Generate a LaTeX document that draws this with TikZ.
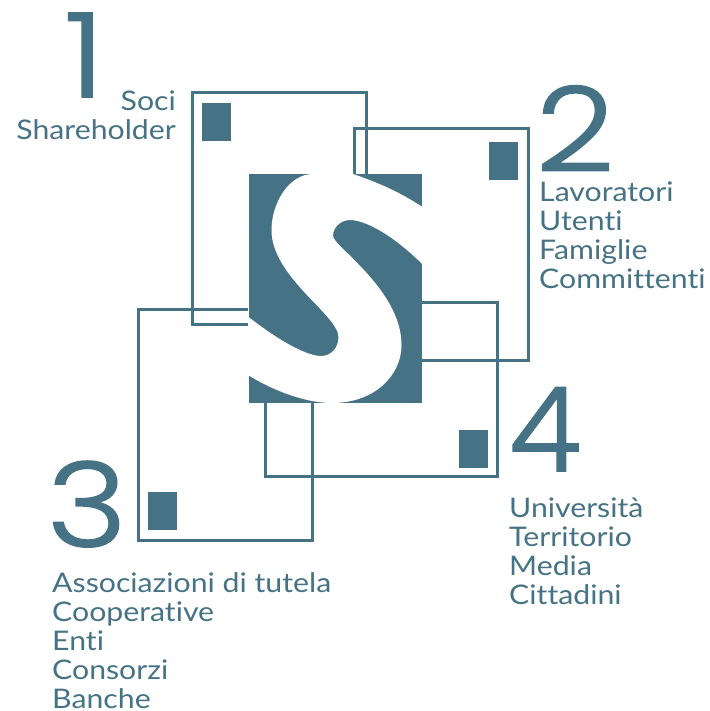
\documentclass[tikz,border=0pt]{standalone}
\usepackage{fontspec}
\setmainfont[FakeStretch=1.12,Ligatures=CommonOff]{Lato}
\newfontfamily\digitfont[UprightFont=* Light,FakeStretch=1.17,FakeBold=1.5]{Poppins}
\newfontfamily\digitnarrow[UprightFont=* Light,FakeBold=1.5]{Poppins}
\definecolor{teal1}{HTML}{457284}
\tikzset{
  frame/.style={draw=teal1,line width=3pt},
  mark1/.style={fill=teal1,draw=none},
  lab/.style={text=teal1,font=\fontsize{27}{29}\selectfont,inner sep=0pt,align=left},
  num/.style={text=teal1,font=\digitfont\fontsize{117}{117}\selectfont,inner sep=0pt,anchor=base},
  numn/.style={text=teal1,font=\digitnarrow\fontsize{117}{117}\selectfont,inner sep=0pt,anchor=base}
}
\begin{document}
\begin{tikzpicture}[x=1pt,y=-1pt]
\useasboundingbox (0,0) rectangle (709,711);
\draw[frame] (192.5,92.5) rectangle (366.5,324);
\draw[frame] (354.5,129) rectangle (528.5,360);
\draw[frame] (138.5,309) rectangle (312,540);
\draw[frame] (265.5,302.5) rectangle (497,476);
\fill[mark1] (202,103) rectangle (231,141);
\fill[mark1] (489,142) rectangle (518,180);
\fill[mark1] (148,492) rectangle (177,530);
\fill[mark1] (459,430) rectangle (488,468);
\fill[white] (248,174) rectangle (422,403);
\fill[teal1] (249,174) rectangle (422,403);
\begin{scope}
\clip (249,174) rectangle (422,403);
\fill[white] (313,174)
  .. controls (289,174) and (271.5,203) .. (271.5,230)
  .. controls (271.5,277) and (338.5,315) .. (338.5,337)
  .. controls (338.5,348) and (331,356) .. (321,356)
  .. controls (304,356) and (270,335) .. (240,310)
  -- (240,370)
  .. controls (270,390) and (305,403) .. (332,403)
  .. controls (375,403) and (401.5,375) .. (401.5,345)
  .. controls (401.5,290) and (333,246) .. (333,236)
  .. controls (333,226) and (342,220) .. (350,220)
  .. controls (365,220) and (395,235) .. (430,272)
  -- (430,212)
  .. controls (405,195) and (385,185) .. (353,174)
  -- (353,160) -- (313,160) -- cycle;
\end{scope}
\node[num] (n1) at (84.5,97) {1};
\node[num] (n2) at (575,171) {2};
\node[num] (n3) at (87,546.5) {3};
\node[numn] (n4) at (545,471) {4};
\node[lab,anchor=north east,align=right] (t1) at (176,91) {Soci\\Shareholder};
\node[lab,anchor=north west] (t2) at (539,182) {Lavoratori\\Utenti\\Famiglie\\Committenti};
\node[lab,anchor=north west] (t3) at (52,572) {Associazioni di tutela\\Cooperative\\Enti\\Consorzi\\Banche};
\node[lab,anchor=north west] (t4) at (509,498) {Università\\Territorio\\Media\\Cittadini};
\end{tikzpicture}
\end{document}
